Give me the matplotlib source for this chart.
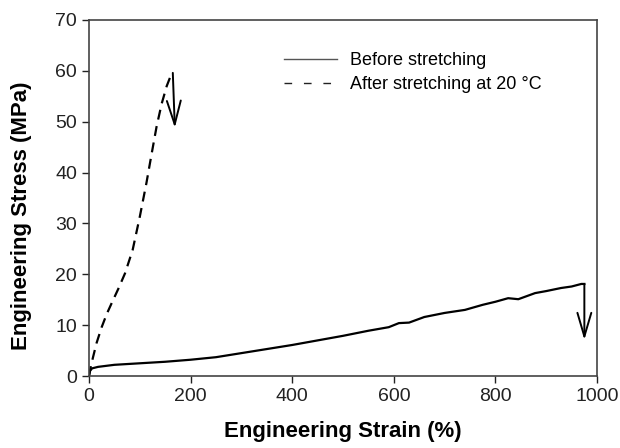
import matplotlib
matplotlib.use("Agg")
import matplotlib.pyplot as plt
from matplotlib.lines import Line2D

plt.rcParams['font.family'] = ['Liberation Sans', 'DejaVu Sans']

# before stretching (solid)
strain_before = [0, 2, 6, 18, 50, 100, 150, 200, 250, 300, 350, 400, 450, 500,
                 550, 590, 610, 630, 660, 700, 740, 775, 800, 825, 845, 878,
                 900, 929, 950, 969, 975]
stress_before = [0, 1.0, 1.5, 1.8, 2.2, 2.5, 2.8, 3.2, 3.7, 4.5, 5.3, 6.1, 7.0,
                 7.9, 8.9, 9.6, 10.4, 10.5, 11.6, 12.4, 13.0, 14.0, 14.6, 15.3,
                 15.1, 16.3, 16.7, 17.3, 17.6, 18.1, 18.1]
# after stretching at 20 C (dashed)
strain_after = [0, 4, 8, 15, 25, 35, 45, 58, 71, 86, 100, 113, 123, 133,
                143, 153, 160, 165]
stress_after = [0, 2.0, 3.7, 6.5, 9.6, 12.2, 14.4, 17.2, 20.2, 24.8,
                31.3, 37.9, 43.5, 49.0, 53.5, 57.0, 58.8, 59.6]

# failure arrows: where each arrow tip ends
arrow_before_tip = (975, 7.1)
arrow_after_tip = (169, 48.8)

labels = ["Before stretching", "After stretching at 20 \u00b0C"]

fig = plt.figure(figsize=(6.2, 4.48), dpi=100)
ax = fig.add_axes([0.1435, 0.1607, 0.8195, 0.7947])

ax.plot(strain_before, stress_before, color='black', lw=1.6)
ax.plot(strain_after, stress_after, color='black', lw=1.6,
        linestyle=(0, (4.5, 3)))

arrow_style = dict(arrowstyle='->,head_length=1.7,head_width=0.5',
                   color='black', lw=1.4, shrinkA=0, shrinkB=0)
ax.annotate('', xy=arrow_before_tip,
            xytext=(strain_before[-1], stress_before[-1]),
            arrowprops=arrow_style)
ax.annotate('', xy=arrow_after_tip,
            xytext=(strain_after[-1], stress_after[-1]),
            arrowprops=arrow_style)

ax.set_xlim(0, 1000)
ax.set_ylim(0, 70)
ax.set_xticks(range(0, 1001, 200))
ax.set_yticks(range(0, 71, 10))
ax.tick_params(direction='out', length=5, width=1, labelsize=14, colors='#222222')
for sp in ax.spines.values():
    sp.set_color('#444444')
    sp.set_linewidth(1.2)

ax.set_xlabel("Engineering Strain (%)", fontsize=16, fontweight='bold', labelpad=12)
ax.set_ylabel("Engineering Stress (MPa)", fontsize=16, fontweight='bold')
ax.yaxis.set_label_coords(-0.112, 0.45)

handles = [Line2D([], [], color='#555555', lw=1.0),
           Line2D([], [], color='#222222', lw=1.0, linestyle=(0, (5.5, 8.5)))]
ax.legend(handles, labels, loc='upper left', bbox_to_anchor=(0.37, 0.93),
          frameon=False, fontsize=13, handlelength=2.9, handletextpad=0.75,
          labelspacing=0.38, borderaxespad=0)

fig.savefig("out.png", dpi=100)
